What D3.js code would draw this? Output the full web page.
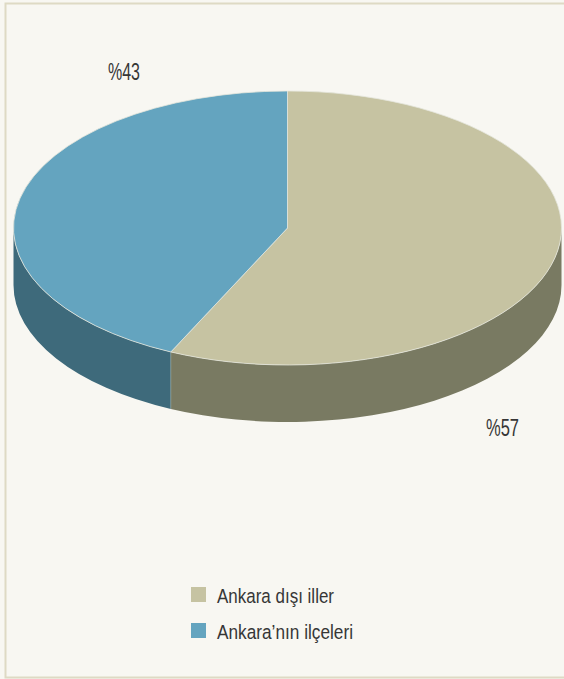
<!DOCTYPE html>
<html><head><meta charset="utf-8">
<script src="https://cdn.jsdelivr.net/npm/d3@7"></script>
<style>
html,body{margin:0;padding:0;background:#f8f7f2;}
svg{display:block;}
text{font-family:'Liberation Sans',Arial,sans-serif;fill:#363636;}
</style></head><body>
<script>
const categories = ["Ankara dışı iller", "Ankara’nın ilçeleri"];
const values = [57, 43];
const labels = ["%57", "%43"];
const topColors = ["#c6c3a2", "#64a4bf"];
const sideColors = ["#797a62", "#3e6a7b"];

const W = 564, H = 679;
const cx = 287.5, cy = 228, rx = 274, ry = 137, depth = 57;

const svg = d3.select("body").append("svg").attr("width", W).attr("height", H);
svg.append("rect").attr("x", 5.5).attr("y", 3.5).attr("width", W + 10).attr("height", 674)
  .attr("fill", "#f8f7f2").attr("stroke", "#dedac4").attr("stroke-width", 2);

const pie = d3.pie().sort(null).value(d => d)(values);
const P = (t, dy = 0) => [cx + rx * Math.sin(t), cy - ry * Math.cos(t) + dy];

// sides (front half: pi/2 .. 3pi/2)
const g = svg.append("g");
pie.forEach((s, i) => {
  const a0 = Math.max(s.startAngle, Math.PI / 2), a1 = Math.min(s.endAngle, 3 * Math.PI / 2);
  if (a1 <= a0) return;
  const p0 = P(a0), p1 = P(a1), q1 = P(a1, depth), q0 = P(a0, depth);
  const large = (a1 - a0) > Math.PI ? 1 : 0;
  const d = `M${p0}A${rx},${ry} 0 ${large} 1 ${p1}L${q1}A${rx},${ry} 0 ${large} 0 ${q0}Z`;
  g.append("path").attr("d", d).attr("fill", sideColors[i]);
});
pie.forEach((s, i) => {
  const t = s.endAngle;
  if (t > Math.PI / 2 && t < 3 * Math.PI / 2) {
    const a = P(t), b = P(t, depth);
    g.append("line").attr("x1", a[0]).attr("y1", a[1]).attr("x2", b[0]).attr("y2", b[1])
      .attr("stroke", "#9aa7a0").attr("stroke-width", 0.6);
  }
});

// tops
const arc = d3.arc().innerRadius(0).outerRadius(rx);
const tg = svg.append("g").attr("transform", `translate(${cx},${cy}) scale(1,${ry / rx})`);
tg.selectAll("path").data(pie).join("path")
  .attr("d", arc).attr("fill", (d, i) => topColors[i])
  .attr("stroke", "#e4e6dc").attr("stroke-width", 0.8).attr("vector-effect", "non-scaling-stroke");

// labels
const labelPos = [[486, 436], [108, 80]];
const labelW = [33, 32];
labels.forEach((l, i) => {
  svg.append("text").attr("x", labelPos[i][0]).attr("y", labelPos[i][1])
    .attr("font-size", 23).attr("textLength", labelW[i]).attr("lengthAdjust", "spacingAndGlyphs").text(l);
});

// legend
const legW = [117, 136];
const leg = svg.append("g");
categories.forEach((c, i) => {
  const y = 587 + i * 36;
  leg.append("rect").attr("x", 191).attr("y", y).attr("width", 15).attr("height", 15).attr("fill", topColors[i]);
  leg.append("text").attr("x", 217).attr("y", y + 15.5).attr("font-size", 20.5)
    .attr("textLength", legW[i]).attr("lengthAdjust", "spacingAndGlyphs").text(c);
});
</script>
</body></html>
